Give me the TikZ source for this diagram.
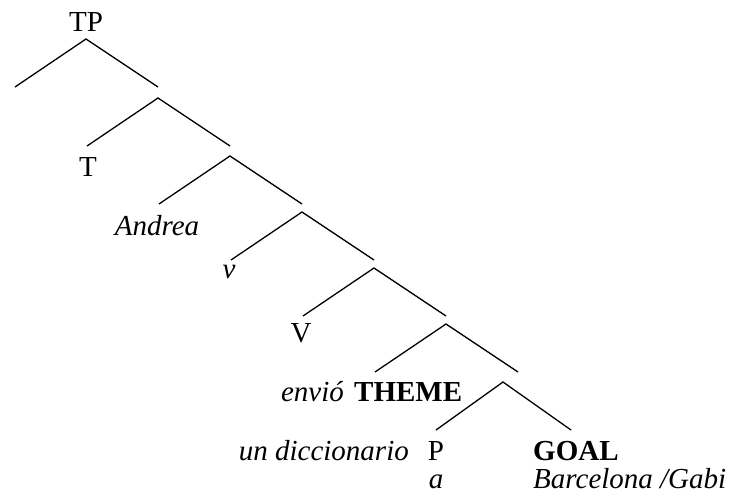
\documentclass[tikz,border=0pt]{standalone}
\usepackage{fontspec}
\setmainfont{Liberation Serif}
\begin{document}
\begin{tikzpicture}[
    x=1pt, y=-1pt,
    every node/.style={inner sep=0pt, anchor=base, font=\fontsize{29}{34}\selectfont},
    branch/.style={line width=1.3pt}
  ]
  \useasboundingbox (0,0) rectangle (752,493);
  % spine of the tree
  \foreach \i/\x/\y in {1/86/39,2/158/98,3/230/156,4/302/212,5/374/268,6/446/324}{
    \coordinate (n\i) at (\x,\y);
    \coordinate (l\i) at (\x-71,\y+48);
    \coordinate (r\i) at (\x+72,\y+48);
  }
  \coordinate (n7) at (503,382);
  \coordinate (l7) at (436,430);
  \coordinate (r7) at (571,430);
  \foreach \i in {1,...,7}
    \draw[branch] (l\i) -- (n\i) -- (r\i);
  % labels
  \node (tp) at (86,31) {TP};
  \node (t) at (88,176) {T};
  \node (andrea) at (157,235) {\textit{Andrea}};
  \node (vsmall) at (229,278) {\textit{v}};
  \node (vbig) at (301,342) {V};
  \node[anchor=base east] (envio) at (344,401) {\textit{envió}};
  \node[anchor=base west] (theme) at (354,401) {\textbf{THEME}};
  \node[anchor=base east] (dicc) at (409,460) {\textit{un diccionario}};
  \node (p) at (436,460) {P};
  \node (a) at (436,488) {\textit{a}};
  \node[anchor=base west] (goal) at (533,460) {\textbf{GOAL}};
  \node[anchor=base west] (barc) at (533,488) {\textit{Barcelona /Gabi}};
\end{tikzpicture}
\end{document}
